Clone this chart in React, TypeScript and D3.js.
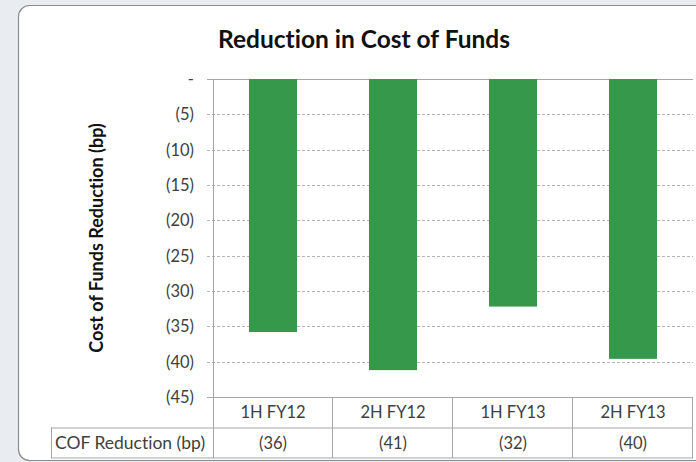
import * as d3 from "d3";

const categories = ["1H FY12", "2H FY12", "1H FY13", "2H FY13"];
const cofReduction = [-35.8, -41.2, -32.2, -39.6];
const tableValues = ["(36)", "(41)", "(32)", "(40)"];
const yTicks = [0, -5, -10, -15, -20, -25, -30, -35, -40, -45];

const font = "Lato, 'Open Sans', sans-serif";

export default function App() {
  const width = 696;
  const height = 462;
  const plot = { left: 213, right: 693, top: 79, bottom: 397 };
  const rowH = 30.5;

  const x = d3.scaleBand()
    .domain(categories)
    .range([plot.left, plot.right])
    .paddingInner(0.6)
    .paddingOuter(0.3);
  const col = d3.scaleBand().domain(categories).range([plot.left, plot.right]);

  const y = d3.scaleLinear().domain([0, -45]).range([plot.top, plot.bottom]);

  const tickFmt = (t: number) => (t === 0 ? "-" : `(${Math.abs(t)})`);

  return (
    <svg width={width} height={height} style={{ position: "absolute", left: 0, top: 0, fontVariantLigatures: "none" }}>
      <rect x={0} y={0} width={width} height={height} fill="#e9edf2" />
      <rect x={18.5} y={5.5} width={720} height={455} rx={11} fill="#fff" stroke="#8c8c8c" strokeWidth={1.2} />

      <text x={364} y={48} textAnchor="middle" fontFamily={font} fontSize={24.5} fontWeight={700} fill="#111">
        Reduction in Cost of Funds
      </text>

      {/* gridlines + tick labels */}
      {yTicks.map(t => (
        <g key={t} transform={`translate(0,${Math.round(y(t)) + 0.5})`}>
          <line
            x1={207} x2={plot.right}
            stroke={t === 0 || t === -45 ? "#a6a6a6" : "#b5b5b5"}
            strokeDasharray={t === 0 || t === -45 ? undefined : "3,2"}
          />
          <text x={194} dy="0.35em" textAnchor="end" fontFamily={font} fontSize={16.5} fill="#404040">
            {tickFmt(t)}
          </text>
        </g>
      ))}

      {/* bars */}
      {categories.map((c, i) => (
        <rect
          key={c}
          x={x(c)}
          y={y(0)}
          width={x.bandwidth()}
          height={y(cofReduction[i]) - y(0)}
          fill="#35984a"
        />
      ))}

      {/* axis line */}
      <line x1={plot.left + 0.5} x2={plot.left + 0.5} y1={plot.top} y2={plot.bottom + rowH * 2} stroke="#a6a6a6" />

      {/* data table */}
      <g fontFamily={font} fontSize={16.5} fill="#404040" stroke="none">
        <line x1={51} x2={plot.right} y1={plot.bottom + rowH + 0.5} y2={plot.bottom + rowH + 0.5} stroke="#a6a6a6" />
        <line x1={51} x2={plot.right} y1={plot.bottom + rowH * 2} y2={plot.bottom + rowH * 2} stroke="#a6a6a6" />
        <line x1={51.5} x2={51.5} y1={plot.bottom + rowH} y2={plot.bottom + rowH * 2} stroke="#a6a6a6" />
        {categories.map((c, i) => {
          const x0 = col(c) ?? 0;
          const cx = x0 + col.bandwidth() / 2;
          return (
            <g key={c}>
              <line x1={x0 + col.bandwidth() - 0.5} x2={x0 + col.bandwidth() - 0.5} y1={plot.bottom} y2={plot.bottom + rowH * 2} stroke="#a6a6a6" />
              <text x={cx} y={plot.bottom + rowH / 2} dy="0.35em" textAnchor="middle">{c}</text>
              <text x={cx} y={plot.bottom + rowH * 1.5} dy="0.35em" textAnchor="middle">{tableValues[i]}</text>
            </g>
          );
        })}
        <text x={55} y={plot.bottom + rowH * 1.5} dy="0.35em" fontSize={17.5}>COF Reduction (bp)</text>
      </g>

      {/* y axis title */}
      <text
        transform={`translate(97,${(plot.top + plot.bottom) / 2}) rotate(-90)`}
        textAnchor="middle"
        dy="0.35em"
        fontFamily={font}
        fontSize={18}
        fontWeight={700}
        fill="#111"
      >
        Cost of Funds Reduction (bp)
      </text>
    </svg>
  );
}
